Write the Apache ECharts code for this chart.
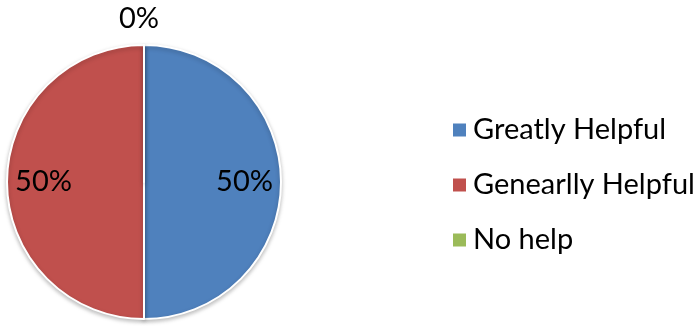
<!DOCTYPE html>
<html>
<head>
<meta charset="utf-8">
<script src="https://cdn.jsdelivr.net/npm/echarts@6/dist/echarts.min.js"></script>
<style>
  html, body { margin: 0; padding: 0; background: #fff; }
  #chart { width: 698px; height: 326px; }
</style>
</head>
<body>
<div id="chart"></div>
<script>
// Survey responses: how helpful the resource was
const categories = ['Greatly Helpful', 'Genearlly Helpful', 'No help'];
const shares = [50, 50, 0];
const colors = ['#4F81BD', '#C0504D', '#9BBB59'];

const FONT = 'Lato';
const pieCenter = [144, 182];
const pieRadius = 137;

const sliceData = categories.map((name, i) => ({
  name: name,
  value: shares[i],
  itemStyle: { color: colors[i] }
}));

// label layer: same data, transparent ring so inner labels sit further out
const labelData = categories.map((name, i) => ({
  name: name,
  value: shares[i],
  label: shares[i] === 0
    ? { position: 'outside' }
    : { position: 'inside' },
  labelLine: { show: false, length: 26, length2: 0 }
}));

const chart = echarts.init(document.getElementById('chart'), null, { renderer: 'canvas' });
chart.setOption({
  animation: false,
  color: colors,
  legend: {
    orient: 'vertical',
    left: 446,
    top: 110,
    itemWidth: 15,
    itemHeight: 15,
    itemGap: 25,
    icon: 'rect',
    data: categories,
    textStyle: {
      fontFamily: FONT,
      fontSize: 29,
      lineHeight: 30,
      color: '#000',
      padding: [0, 0, 0, 1]
    }
  },
  series: [
    {
      type: 'pie',
      center: pieCenter,
      radius: pieRadius,
      startAngle: 90,
      clockwise: true,
      label: { show: false },
      labelLine: { show: false },
      silent: true,
      itemStyle: {
        borderColor: '#fff',
        borderWidth: 2,
        shadowBlur: 4,
        shadowOffsetY: 2,
        shadowColor: 'rgba(0,0,0,0.25)'
      },
      data: sliceData
    },
    {
      type: 'pie',
      center: pieCenter,
      radius: [58, pieRadius],
      startAngle: 90,
      clockwise: true,
      silent: true,
      legendHoverLink: false,
      itemStyle: { color: 'rgba(0,0,0,0)' },
      label: {
        show: true,
        formatter: '{c}%',
        fontFamily: FONT,
        fontSize: 29,
        color: '#000'
      },
      labelLayout: function (p) {
        return p.dataIndex === 2 ? { align: 'center' } : {};
      },
      data: labelData
    }
  ]
});
</script>
</body>
</html>
